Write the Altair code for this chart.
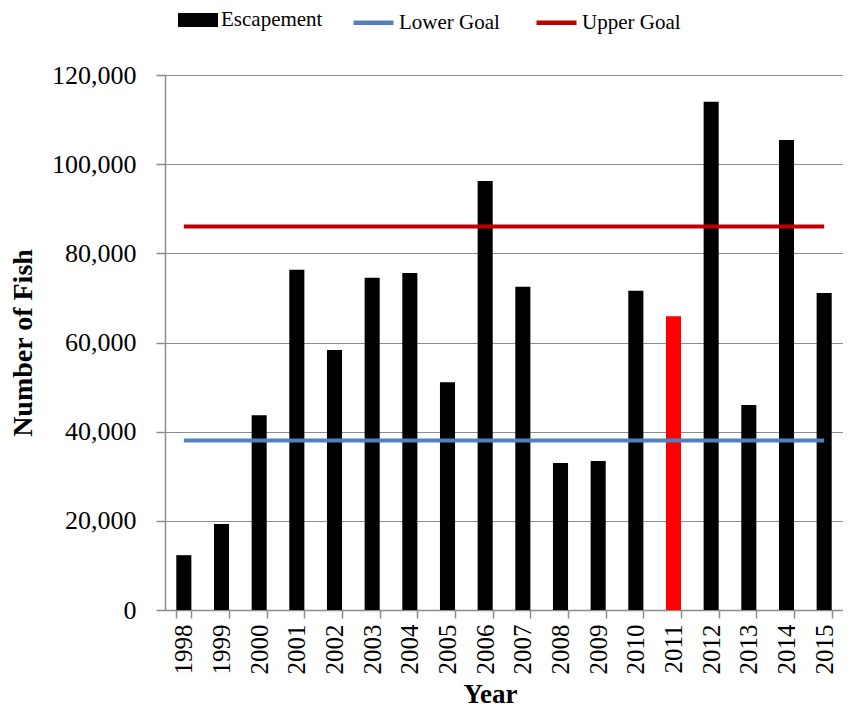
import altair as alt
import pandas as pd

years = ["1998", "1999", "2000", "2001", "2002", "2003", "2004", "2005", "2006",
         "2007", "2008", "2009", "2010", "2011", "2012", "2013", "2014", "2015"]
escapement = [12300, 19300, 43700, 76300, 58300, 74500, 75600, 51100, 96200,
              72500, 33000, 33400, 71600, 65900, 114000, 46000, 105400, 71100]
lower_goal = [38000, 38000, 38000, 38000, 38000, 38000, 38000, 38000, 38000,
              38000, 38000, 38000, 38000, 38000, 38000, 38000, 38000, 38000]
upper_goal = [86000, 86000, 86000, 86000, 86000, 86000, 86000, 86000, 86000,
              86000, 86000, 86000, 86000, 86000, 86000, 86000, 86000, 86000]
highlight_year = "2011"
y_ticks = [0, 20000, 40000, 60000, 80000, 100000, 120000]

FONT = "Liberation Serif"
AXIS_GRAY = "#8c8c8c"

bars_df = pd.DataFrame({"Year": years, "Fish": escapement, "Series": ["Escapement"] * len(years)})
goals_df = pd.concat([
    pd.DataFrame({"Year": years, "Fish": lower_goal, "Series": ["Lower Goal"] * len(years)}),
    pd.DataFrame({"Year": years, "Fish": upper_goal, "Series": ["Upper Goal"] * len(years)}),
])

x_enc = alt.X(
    "Year:N", sort=years,
    scale=alt.Scale(paddingInner=0.6, paddingOuter=0.3),
    axis=alt.Axis(
        title="Year", labelAngle=-90, tickBand="extent",
        labelFont=FONT, labelFontSize=25, labelColor="#000000", labelPadding=6,
        titleFont=FONT, titleFontSize=27, titleFontWeight="bold", titleColor="#000000",
        titlePadding=7, titleX=325,
        domainColor=AXIS_GRAY, tickColor=AXIS_GRAY, tickSize=8, domainWidth=1.5, tickWidth=1.5,
        grid=False,
    ),
)
y_enc = alt.Y(
    "Fish:Q",
    scale=alt.Scale(domain=[0, 120000], nice=False),
    axis=alt.Axis(
        title="Number of Fish", values=y_ticks, format=",.0f",
        labelFont=FONT, labelFontSize=26, labelColor="#000000", labelPadding=20,
        titleFont=FONT, titleFontSize=28, titleFontWeight="bold", titleColor="#000000",
        titlePadding=14,
        domainColor=AXIS_GRAY, tickColor=AXIS_GRAY, tickSize=9, domainWidth=1.5, tickWidth=1.5,
        grid=True, gridColor=AXIS_GRAY, gridWidth=1.2,
    ),
)

bars = alt.Chart(bars_df).mark_bar().encode(
    x=x_enc,
    y=y_enc,
    color=alt.condition(
        alt.datum.Year == highlight_year,
        alt.value("#FF0000"),
        alt.Color(
            "Series:N",
            scale=alt.Scale(domain=["Escapement"], range=["#000000"]),
            legend=alt.Legend(
                title=None, orient="none", legendX=13, legendY=-75, direction="horizontal",
                symbolType="M-1,-0.35L1,-0.35L1,0.35L-1,0.35Z", symbolSize=1600,
                symbolStrokeWidth=0, labelFont=FONT, labelFontSize=21, labelColor="#000000",
                labelOffset=3,
            ),
        ),
    ),
)

lines = alt.Chart(goals_df).mark_line(strokeWidth=4).encode(
    x=alt.X("Year:N", sort=years),
    y=alt.Y("Fish:Q"),
    stroke=alt.Stroke(
        "Series:N",
        scale=alt.Scale(domain=["Lower Goal", "Upper Goal"], range=["#4F81BD", "#C00000"]),
        legend=alt.Legend(
            title=None, orient="none", legendX=186, legendY=-75, direction="horizontal",
            symbolType="stroke", symbolSize=1600, symbolStrokeWidth=4.5,
            labelFont=FONT, labelFontSize=21, labelColor="#000000", labelOffset=3,
            columnPadding=27,
        ),
    ),
)

chart = alt.layer(bars, lines).properties(
    width=678, height=535,
    autosize=alt.AutoSizeParams(type="none"),
    padding={"left": 157, "top": 67, "right": 0, "bottom": 100},
).configure_view(stroke=None).configure(background="white")

chart.save("out.html", embed_options={"renderer": "svg", "actions": False})
